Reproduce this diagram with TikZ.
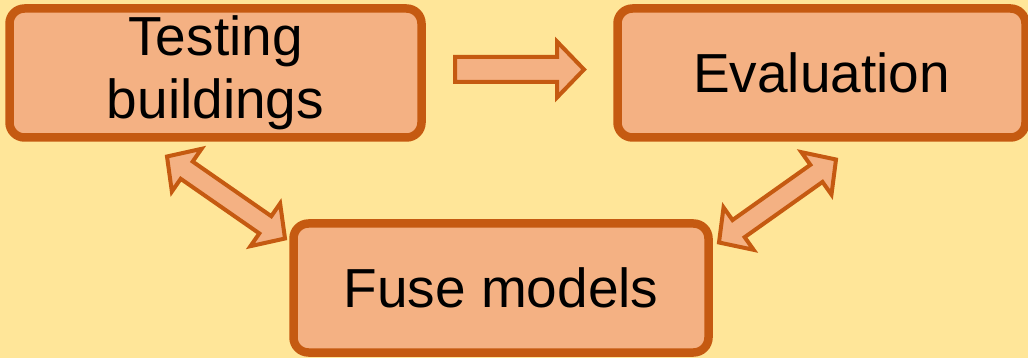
\documentclass[tikz,border=0pt]{standalone}
\usepackage{fontspec}
\setmainfont{Liberation Sans}
\usetikzlibrary{calc}
\definecolor{bgyellow}{HTML}{FFE699}
\definecolor{boxfill}{HTML}{F4B183}
\definecolor{boxline}{HTML}{C55A11}
\tikzset{
  stagebox/.style={draw=boxline, fill=boxfill, line width=8.5pt, rounded corners=15pt,
    minimum height=129pt, align=center, inner sep=0pt,
    font=\fontsize{55}{63}\selectfont},
  blockarrow/.style={draw=boxline, fill=boxfill, line width=4pt, line join=miter}
}
% double block arrow between #1 and #2 (prefix #3), head length #4, head half width #5, shaft half width #6
\newcommand\mydblarrow[6]{%
  \coordinate (#3h1) at ($(#1)!#4!(#2)$);
  \coordinate (#3h2) at ($(#2)!#4!(#1)$);
  \draw[blockarrow] (#1)
    -- ($(#3h1)!#5!90:(#2)$) -- ($(#3h1)!#6!90:(#2)$)
    -- ($(#3h2)!#6!90:(#2)$) -- ($(#3h2)!#5!90:(#2)$)
    -- (#2)
    -- ($(#3h2)!#5!-90:(#2)$) -- ($(#3h2)!#6!-90:(#2)$)
    -- ($(#3h1)!#6!-90:(#2)$) -- ($(#3h1)!#5!-90:(#2)$)
    -- cycle;}
% single block arrow from #1 to #2 (prefix #3)
\newcommand\mysglarrow[6]{%
  \coordinate (#3h2) at ($(#2)!#4!(#1)$);
  \draw[blockarrow] ($(#1)!#6!90:(#2)$)
    -- ($(#3h2)!#6!90:(#2)$) -- ($(#3h2)!#5!90:(#2)$)
    -- (#2)
    -- ($(#3h2)!#5!-90:(#2)$) -- ($(#3h2)!#6!-90:(#2)$)
    -- ($(#1)!#6!-90:(#2)$) -- cycle;}
\begin{document}
\begin{tikzpicture}[x=1pt,y=-1pt]
  \fill[bgyellow] (0,0) rectangle (1028,358);
  \useasboundingbox (0,0) rectangle (1028,358);

  \node[stagebox, minimum width=412pt] (tb) at (215.5,73) {Testing\\buildings};
  \node[stagebox, minimum width=408pt] (ev) at (821.5,73) {Evaluation};
  \node[stagebox, minimum width=415pt] (fm) at (501,288) {Fuse models};

  % right arrow
  \coordinate (r1) at (455,69.5);
  \coordinate (r2) at (584,69.5);
  \mysglarrow{r1}{r2}{ra}{27pt}{28pt}{12.5pt}

  % left double arrow
  \coordinate (l1) at (167,156.5);
  \coordinate (l2) at (285,238.5);
  \mydblarrow{l1}{l2}{la}{24pt}{26pt}{10.5pt}

  % right double arrow
  \coordinate (d1) at (836,159.5);
  \coordinate (d2) at (719,242.5);
  \mydblarrow{d1}{d2}{da}{24pt}{26pt}{10.5pt}
\end{tikzpicture}
\end{document}
